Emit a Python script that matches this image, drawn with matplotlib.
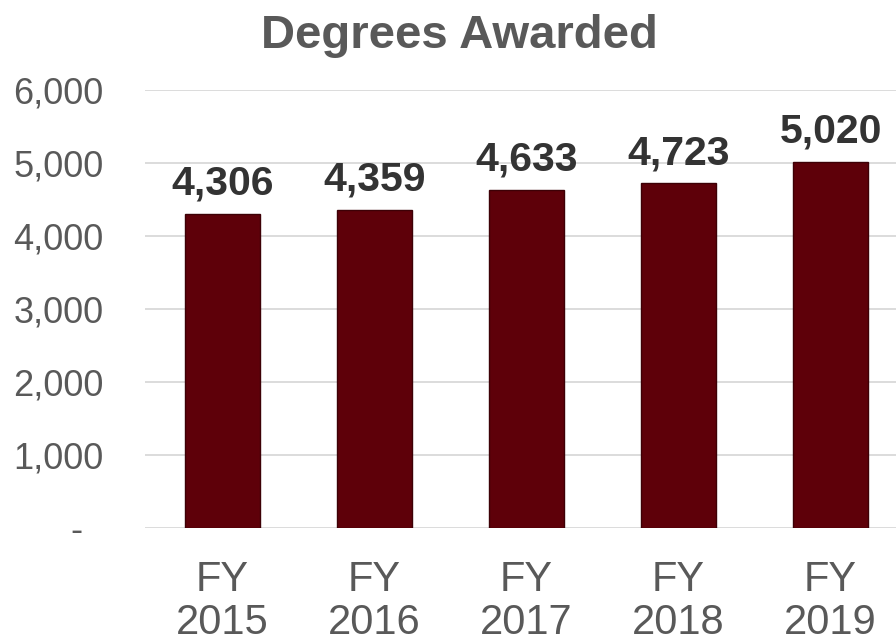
import matplotlib
matplotlib.use("Agg")
import matplotlib.pyplot as plt
from matplotlib.ticker import FuncFormatter

plt.rcParams['font.family'] = ['Liberation Sans', 'DejaVu Sans']

# data
years = ["FY\n2015", "FY\n2016", "FY\n2017", "FY\n2018", "FY\n2019"]
degrees = [4306, 4359, 4633, 4723, 5020]
y_ticks = [0, 1000, 2000, 3000, 4000, 5000, 6000]

bar_color = "#5e0009"
text_grey = "#595959"

fig = plt.figure(figsize=(8.96, 6.42), dpi=100)
ax = fig.add_axes([0.162, 0.1776, 0.838, 0.682])

x = range(len(years))
bars = ax.bar(x, degrees, width=0.49, color=bar_color, edgecolor="#3d0006",
              linewidth=1.0, zorder=3)

for b, v in zip(bars, degrees):
    ax.annotate(f"{v:,}", (b.get_x() + b.get_width() / 2, v),
                xytext=(0, 8), textcoords="offset points",
                ha="center", va="bottom", fontsize=29.5, fontweight="bold",
                color="#333333")

ax.set_ylim(0, 6000)
ax.set_xlim(-0.51, 4.43)
ax.set_yticks(y_ticks)
# excel style: zero shown as a dash, set in a bit
ax.yaxis.set_major_formatter(FuncFormatter(lambda v, p: "-  " if v == 0 else f"{int(v):,}"))
ax.set_xticks(list(x))
ax.set_xticklabels(years, linespacing=1.1)

ax.tick_params(axis="y", length=0, pad=30, labelsize=26, labelcolor=text_grey)
ax.tick_params(axis="x", length=0, pad=23, labelsize=30, labelcolor=text_grey)

ax.grid(axis="y", color="#d9d9d9", linewidth=1.3, zorder=0)
for s in ax.spines.values():
    s.set_visible(False)

fig.text(0.513, 0.925, "Degrees Awarded", ha="center", va="baseline",
         fontsize=34, fontweight="bold", color=text_grey)

fig.savefig("out.png", dpi=100, facecolor="white")
